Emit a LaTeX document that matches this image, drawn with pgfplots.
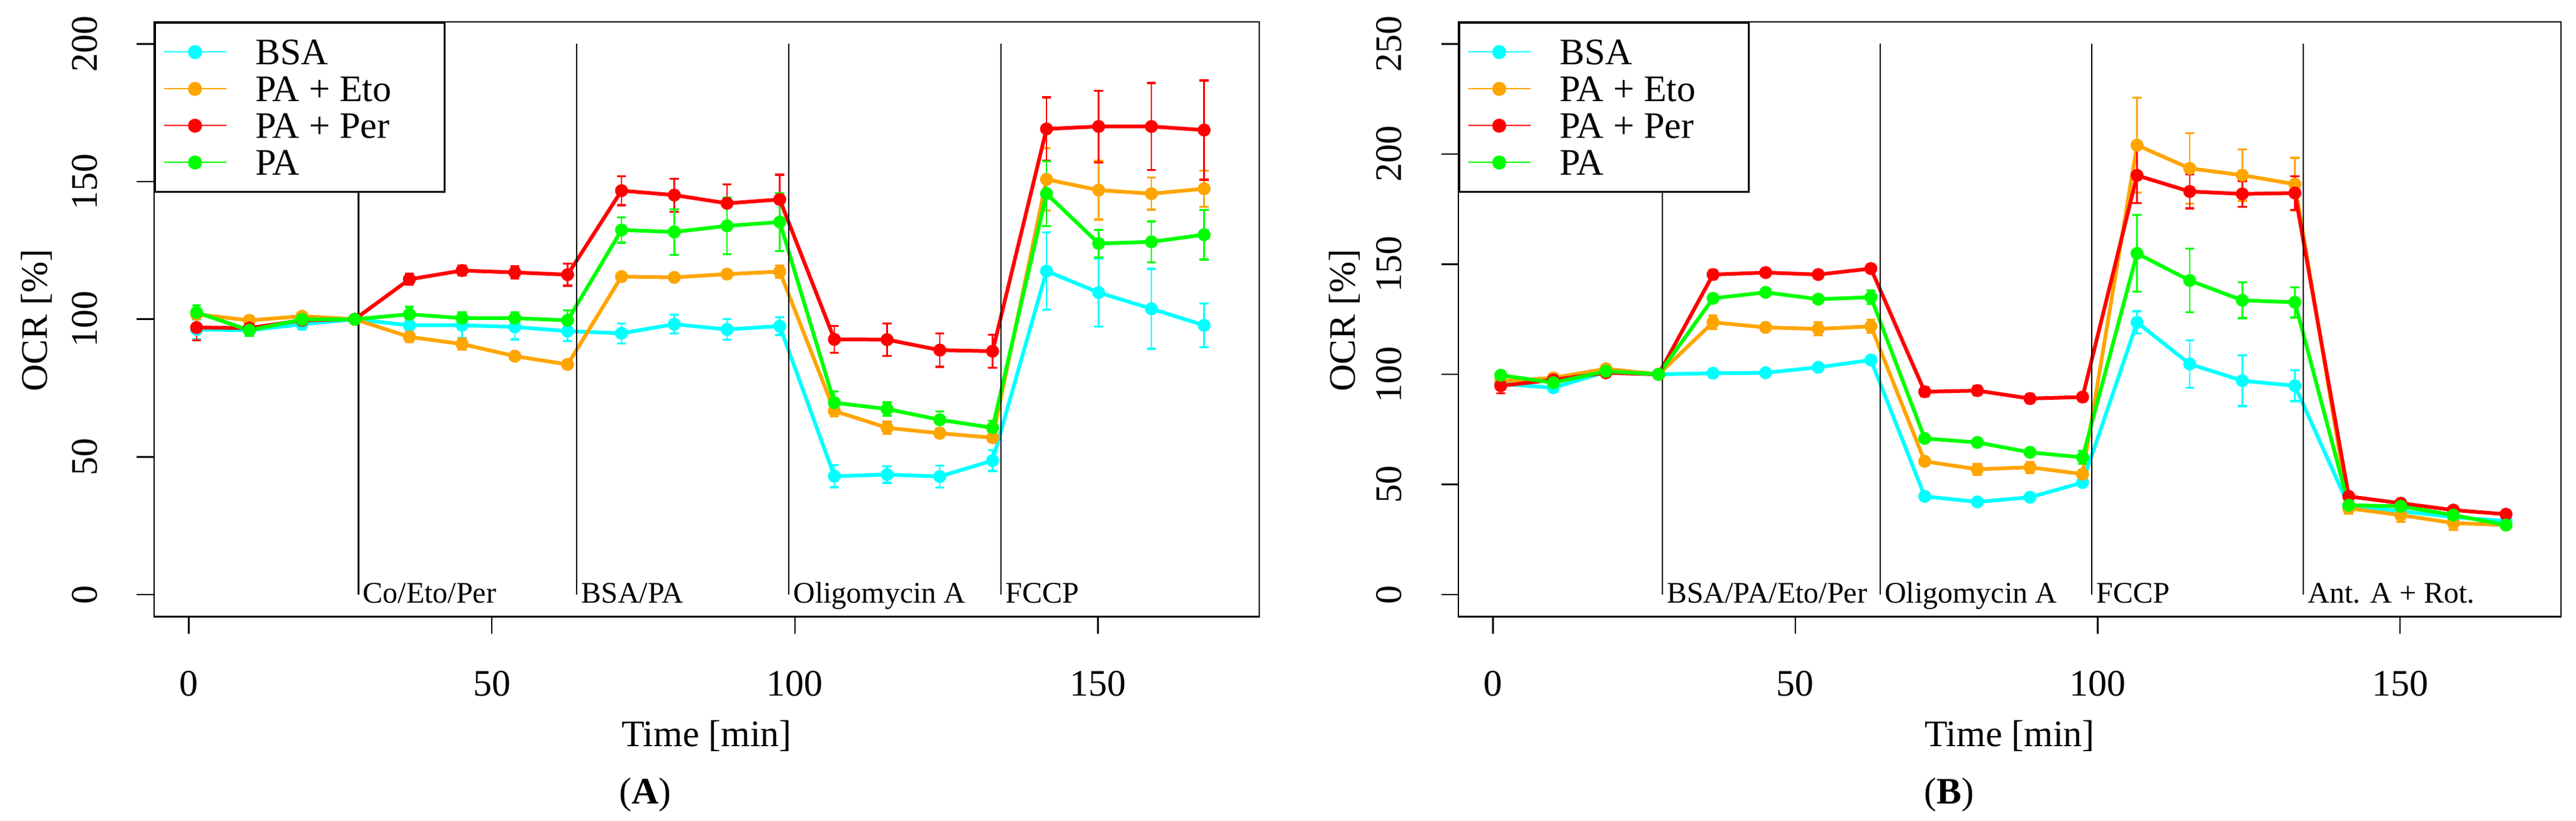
\documentclass[border=0pt]{standalone}
\usepackage{fontspec}
\setmainfont{Liberation Serif}
\usepackage{pgfplots}
\pgfplotsset{compat=1.18}
\usepackage{pgfplotstable}

\definecolor{rcyan}{RGB}{0,255,255}
\definecolor{rorange}{RGB}{255,165,0}
\definecolor{rred}{RGB}{255,0,0}
\definecolor{rgreen}{RGB}{0,255,0}

% Panel A
\pgfplotstableread{
x y e
1.3 96.3 3.6
10.0 96.0 2.0
18.7 98.2 2.0
27.4 100 0
36.4 97.8 2.0
45.1 97.8 4.5
53.8 97.2 4.5
62.5 95.7 3.5
71.4 94.9 3.6
80.1 98.2 3.4
88.8 96.3 3.8
97.5 97.5 3.2
106.5 43.0 4.0
115.2 43.6 3.0
123.9 42.9 4.0
132.6 48.7 3.8
141.5 117.5 14.0
150.1 109.7 12.3
158.8 103.8 14.5
167.5 97.8 8.0
}\ABSA
\pgfplotstableread{
x y e
1.3 101.8 1.5
10.0 99.6 1.5
18.7 101.1 1.2
27.4 100 0
36.4 93.6 2.0
45.1 91.0 2.0
53.8 86.6 1.5
62.5 83.6 1.5
71.4 115.5 1.5
80.1 115.2 1.2
88.8 116.4 1.5
97.5 117.3 2.2
106.5 66.7 2.0
115.2 60.6 2.2
123.9 58.6 1.5
132.6 57.0 1.5
141.5 150.8 11.4
150.1 146.9 10.7
158.8 145.6 5.8
167.5 147.4 6.6
}\AEto
\pgfplotstableread{
x y e
1.3 97.0 4.7
10.0 96.8 2.4
18.7 99.6 2.0
27.4 100 0
36.4 114.5 2.0
45.1 117.7 1.7
53.8 117.0 2.2
62.5 116.2 4.0
71.4 146.7 5.3
80.1 145.1 6.0
88.8 142.1 6.9
97.5 143.5 9.0
106.5 92.7 4.8
115.2 92.6 5.9
123.9 88.8 6.1
132.6 88.4 6.0
141.5 169.1 11.5
150.1 170.0 13.0
158.8 170.0 15.8
167.5 168.7 18.0
}\APer
\pgfplotstableread{
x y e
1.3 102.5 2.5
10.0 96.0 2.0
18.7 99.9 1.5
27.4 100 0
36.4 101.8 2.7
45.1 100.4 2.2
53.8 100.4 2.2
62.5 99.6 3.6
71.4 132.4 4.6
80.1 131.7 8.3
88.8 133.9 10.3
97.5 135.3 10.5
106.5 69.7 4.0
115.2 67.4 2.4
123.9 63.5 3.1
132.6 60.6 2.5
141.5 145.6 11.8
150.1 127.5 5.0
158.8 128.1 7.4
167.5 130.7 9.0
}\APA

% Panel B
\pgfplotstableread{
x y e
1.3 95.7 2.0
10.0 93.9 2.0
18.7 101.1 1.2
27.4 100 0
36.4 100.5 1.2
45.1 100.7 1.5
53.8 103.2 1.2
62.5 106.5 1.5
71.4 44.6 1.2
80.1 42.1 1.5
88.8 44.2 1.0
97.5 50.9 1.2
106.5 123.6 5.0
115.2 104.7 10.8
123.9 97.1 11.5
132.6 94.8 7.0
141.5 40.3 1.5
150.1 37.9 1.5
158.8 35.2 1.5
167.5 33.4 1.5
}\BBSA
\pgfplotstableread{
x y e
1.3 96.9 1.5
10.0 98.4 2.0
18.7 102.5 2.0
27.4 100 0
36.4 123.6 3.0
45.1 121.3 1.5
53.8 120.6 3.0
62.5 121.8 3.0
71.4 60.5 1.5
80.1 56.9 2.5
88.8 57.8 2.5
97.5 54.7 1.5
106.5 204.0 21.5
115.2 193.5 16.0
123.9 190.4 11.7
132.6 186.3 12.0
141.5 39.2 2.5
150.1 36.1 3.0
158.8 32.5 3.0
167.5 31.6 1.5
}\BEto
\pgfplotstableread{
x y e
1.3 94.8 3.5
10.0 97.5 1.5
18.7 100.7 1.5
27.4 100 0
36.4 145.3 2.0
45.1 146.2 1.5
53.8 145.3 1.5
62.5 148.0 2.0
71.4 92.1 2.0
80.1 92.6 2.0
88.8 89.0 2.0
97.5 89.7 2.0
106.5 190.3 12.5
115.2 183.0 7.7
123.9 181.9 5.9
132.6 182.3 7.6
141.5 44.6 1.5
150.1 41.5 1.5
158.8 38.4 1.5
167.5 36.5 1.5
}\BPer
\pgfplotstableread{
x y e
1.3 99.6 1.5
10.0 96.2 1.5
18.7 101.4 1.5
27.4 100 0
36.4 134.5 1.5
45.1 137.2 1.2
53.8 134.1 1.5
62.5 135.0 3.2
71.4 70.9 1.5
80.1 69.1 1.5
88.8 64.6 1.5
97.5 62.3 3.0
106.5 154.9 17.4
115.2 142.6 14.4
123.9 133.6 8.1
132.6 132.7 6.9
141.5 40.6 1.5
150.1 40.1 1.5
158.8 36.1 2.0
167.5 31.6 1.5
}\BPA

\pgfplotsset{
  ocr/.style={
    scale only axis, height=190.7bp,
    xmin=-5.7, xmax=176.6, xtick={0,50,100,150},
    tick pos=left, tick align=outside, major tick length=5.5bp,
    every tick/.style={black, line width=0.5bp},
    axis line style={line width=0.55bp},
    /pgf/number format/assume math mode=true,
    ticklabel style={font=\fontsize{12bp}{14bp}\selectfont, inner sep=0pt},
    yticklabel style={rotate=90, anchor=south},
    xticklabel style={anchor=north},
    xticklabel shift=11.7bp, yticklabel shift=12.5bp,
    legend style={at={(0,1)}, anchor=north west, draw=black, line width=0.6bp, fill=white,
      inner xsep=2.6bp, inner ysep=3.5bp, row sep=0pt, column sep=9.1bp,
      nodes={inner sep=0pt, text height=9.9bp, text depth=1.9bp},
      font=\fontsize{12bp}{14bp}\selectfont},
    legend cell align=left,
    legend image code/.code={\draw[##1, line width=0.4bp, mark size=2.05bp, mark repeat=2, mark phase=2] plot coordinates {(0bp,0bp) (10bp,0bp) (20bp,0bp)};},
  },
  ser/.style={color=#1, line width=1.2bp, mark=*, mark size=1.47bp, mark options={solid, fill=#1},
    error bars/y dir=both, error bars/y explicit,
    error bars/error bar style={line width=0.55bp, color=#1},
    error bars/error mark options={rotate=90, mark size=1.47bp, line width=0.65bp, color=#1}},
  vl/.style={black, line width=0.45bp, forget plot, mark=none},
}
\tikzset{
  lab/.style={anchor=base west, inner sep=0pt, xshift=1.3bp, yshift=-2.6bp, font=\fontsize{9.6bp}{11bp}\selectfont},
  big/.style={inner sep=0pt, font=\fontsize{12bp}{15bp}\selectfont},
}

\begin{document}
\begin{tikzpicture}
\useasboundingbox (0,0) rectangle (825.6bp,263.2bp);
\begin{axis}[ocr, at={(49.4bp,65.5bp)}, anchor=south west, width=354.2bp,
  ymin=-8, ymax=208, ytick={0,50,100,150,200}]
\addplot[ser=rcyan] table[x=x, y=y, y error=e] {\ABSA};
\addlegendentry{\makebox[58bp][l]{BSA}}
\addplot[ser=rorange] table[x=x, y=y, y error=e] {\AEto};
\addlegendentry{\makebox[58bp][l]{PA + Eto}}
\addplot[ser=rred] table[x=x, y=y, y error=e] {\APer};
\addlegendentry{\makebox[58bp][l]{PA + Per}}
\addplot[ser=rgreen] table[x=x, y=y, y error=e] {\APA};
\addlegendentry{\makebox[58bp][l]{PA}}
\addplot[vl] coordinates {(28,0) (28,200)};
\addplot[vl] coordinates {(64,0) (64,200)};
\addplot[vl] coordinates {(99,0) (99,200)};
\addplot[vl] coordinates {(134,0) (134,200)};
\node[lab] at (axis cs:28,0) {Co/Eto/Per};
\node[lab] at (axis cs:64,0) {BSA/PA};
\node[lab] at (axis cs:99,0) {Oligomycin A};
\node[lab] at (axis cs:134,0) {FCCP};
\end{axis}
\node[big, rotate=90, anchor=base] at (15bp,160.5bp) {OCR [\%]};
\node[big, anchor=base] at (226.5bp,23.9bp) {Time [min]};
\node[big, anchor=base] at (206.8bp,5.5bp) {(\textbf{A})};

\begin{axis}[ocr, at={(467.4bp,65.5bp)}, anchor=south west, width=353.4bp,
  ymin=-10, ymax=260, ytick={0,50,100,150,200,250}]
\addplot[ser=rcyan] table[x=x, y=y, y error=e] {\BBSA};
\addlegendentry{\makebox[58bp][l]{BSA}}
\addplot[ser=rorange] table[x=x, y=y, y error=e] {\BEto};
\addlegendentry{\makebox[58bp][l]{PA + Eto}}
\addplot[ser=rred] table[x=x, y=y, y error=e] {\BPer};
\addlegendentry{\makebox[58bp][l]{PA + Per}}
\addplot[ser=rgreen] table[x=x, y=y, y error=e] {\BPA};
\addlegendentry{\makebox[58bp][l]{PA}}
\addplot[vl] coordinates {(28,0) (28,250)};
\addplot[vl] coordinates {(64,0) (64,250)};
\addplot[vl] coordinates {(99,0) (99,250)};
\addplot[vl] coordinates {(134,0) (134,250)};
\node[lab] at (axis cs:28,0) {BSA/PA/Eto/Per};
\node[lab] at (axis cs:64,0) {Oligomycin A};
\node[lab] at (axis cs:99,0) {FCCP};
\node[lab] at (axis cs:134,0) {Ant. A + Rot.};
\end{axis}
\node[big, rotate=90, anchor=base] at (434.2bp,160.5bp) {OCR [\%]};
\node[big, anchor=base] at (644.1bp,23.9bp) {Time [min]};
\node[big, anchor=base] at (624.7bp,5.5bp) {(\textbf{B})};
\end{tikzpicture}
\end{document}
